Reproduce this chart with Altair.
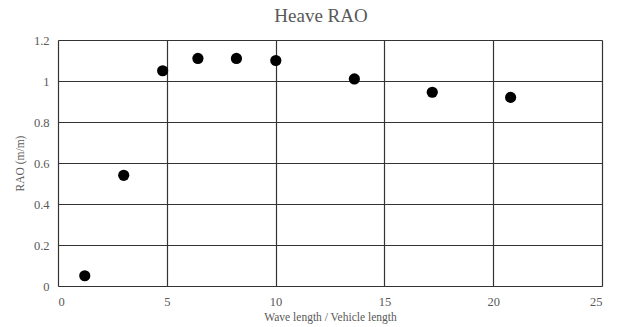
import altair as alt
import pandas as pd

wave_ratio = [1.23, 3.02, 4.81, 6.43, 8.2, 10.01, 13.62, 17.2, 20.8]
rao = [0.05, 0.54, 1.05, 1.11, 1.11, 1.10, 1.01, 0.945, 0.92]

df = pd.DataFrame({"x": wave_ratio, "y": rao})

font = "Liberation Serif"
grey = "#595959"

axis_style = dict(
    grid=True, gridColor="#333333", gridWidth=1.2, gridOpacity=1,
    domain=False, ticks=False,
    labelFont=font, labelFontSize=12.5, labelColor=grey, labelPadding=9,
    titleFont=font, titleFontSize=11.5, titleColor=grey, titleFontWeight="normal",
)

chart = alt.Chart(df).mark_circle(size=125, color="black", opacity=1).encode(
    x=alt.X("x:Q", scale=alt.Scale(domain=[0, 25], nice=False),
            axis=alt.Axis(values=[0, 5, 10, 15, 20, 25], title="Wave length / Vehicle length",
                          titlePadding=4, **axis_style)),
    y=alt.Y("y:Q", scale=alt.Scale(domain=[0, 1.2], nice=False),
            axis=alt.Axis(values=[0, 0.2, 0.4, 0.6, 0.8, 1.0, 1.2], format="~g",
                          title="RAO (m/m)", titlePadding=8, **axis_style)),
).properties(
    width=544, height=246,
    title=alt.TitleParams("Heave RAO", font=font, fontSize=19, fontWeight="normal",
                          color=grey, offset=8, anchor="middle", dx=-9),
    autosize=alt.AutoSizeParams(type="none"),
    padding={"left": 58, "top": 40, "right": 15, "bottom": 41},
).configure_view(
    stroke="#333333", strokeWidth=1.2
).configure(font=font)

chart.save("out.html", embed_options={"renderer": "svg", "actions": False})
